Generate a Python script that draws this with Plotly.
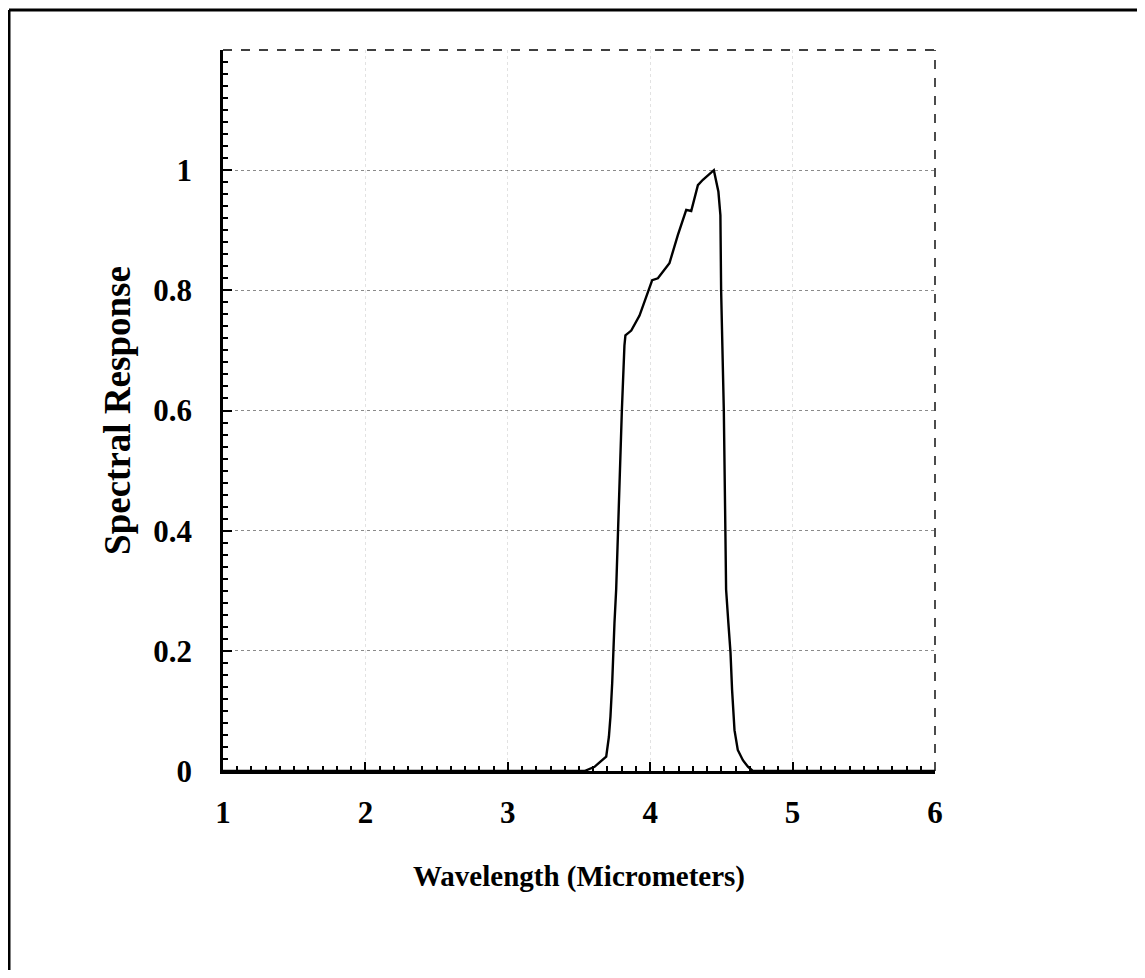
import plotly.graph_objects as go

# ---- data ----
wavelength = [1.0, 3.539, 3.609, 3.691, 3.710, 3.721, 3.733, 3.740, 3.749, 3.761,
              3.773, 3.801, 3.819, 3.826, 3.867, 3.925, 3.984, 4.014, 4.054, 4.135,
              4.194, 4.253, 4.288, 4.335, 4.370, 4.447, 4.479, 4.493, 4.498, 4.517,
              4.528, 4.533, 4.549, 4.564, 4.575, 4.592, 4.615, 4.651, 4.686, 4.721, 6.0]
response = [0.0, 0.0, 0.007, 0.024, 0.057, 0.091, 0.146, 0.197, 0.246, 0.302,
            0.398, 0.600, 0.708, 0.725, 0.733, 0.758, 0.797, 0.817, 0.820, 0.845,
            0.892, 0.934, 0.932, 0.975, 0.984, 1.0, 0.964, 0.925, 0.80, 0.60,
            0.398, 0.302, 0.246, 0.197, 0.135, 0.068, 0.035, 0.018, 0.007, 0.0, 0.0]

x_ticks = [1, 2, 3, 4, 5, 6]
x_tick_labels = ["1", "2", "3", "4", "5", "6"]
y_ticks = [0, 0.2, 0.4, 0.6, 0.8, 1.0]
y_tick_labels = ["0", "0.2", "0.4", "0.6", "0.8", "1"]

x_title = "Wavelength (Micrometers)"
y_title = "Spectral Response"

# ---- layout geometry ----
W, H = 1129, 962
ML, MR, MT, MB = 215, 202, 42, 199
pw = W - ML - MR
ph = H - MT - MB

def px_to_paper_x(px):
    return (px - ML) / pw

def px_to_paper_y(py):
    return (H - MB - py) / ph

FONT = "Liberation Serif"

fig = go.Figure()
fig.add_trace(go.Scatter(x=wavelength, y=response, mode="lines",
                         line=dict(color="black", width=2.4), showlegend=False))

fig.update_layout(
    width=W, height=H, autosize=False,
    margin=dict(l=ML, r=MR, t=MT, b=MB),
    paper_bgcolor="white", plot_bgcolor="white",
    font=dict(family=FONT, size=30, color="black", weight="bold"),
)

fig.update_xaxes(
    range=[1, 6], tickvals=x_ticks, ticktext=x_tick_labels,
    ticks="inside", ticklen=9, tickwidth=2, tickcolor="black",
    showline=True, linecolor="black", linewidth=2.5,
    showgrid=True, gridcolor="#e2e2e2", griddash="dot", gridwidth=1,
    zeroline=False,
    minor=dict(dtick=0.1, tick0=1, ticks="inside", ticklen=5, tickwidth=1.5,
               tickcolor="black", showgrid=False),
    ticklabelstandoff=12,
    tickfont=dict(family=FONT, size=31, weight="bold"),
    title=dict(text=x_title, font=dict(family=FONT, size=29, weight="bold"), standoff=37),
)
fig.update_yaxes(
    range=[0, 1.2], tickvals=y_ticks, ticktext=y_tick_labels,
    ticks="inside", ticklen=9, tickwidth=2, tickcolor="black",
    showline=True, linecolor="black", linewidth=2.5,
    showgrid=True, gridcolor="#8a8a8a", griddash="dot", gridwidth=1,
    zeroline=False,
    minor=dict(dtick=0.02, tick0=0, ticks="inside", ticklen=5, tickwidth=1.5,
               tickcolor="black", showgrid=False),
    ticklabelstandoff=22,
    tickfont=dict(family=FONT, size=31, weight="bold"),
    title=dict(text=y_title, font=dict(family=FONT, size=37, weight="bold"), standoff=12),
)

# dashed top and right borders of the plot box
fig.add_shape(type="line", xref="paper", yref="paper", x0=0, y0=1, x1=1, y1=1,
              line=dict(color="black", width=1.6, dash="dash"))
fig.add_shape(type="line", xref="paper", yref="paper", x0=1, y0=0, x1=1, y1=1,
              line=dict(color="black", width=1.4, dash="dash"))

# outer page frame (top and left)
fx = px_to_paper_x(1)
fy = px_to_paper_y(2)
fig.add_shape(type="line", xref="paper", yref="paper",
              x0=fx, y0=px_to_paper_y(H), x1=fx, y1=fy,
              line=dict(color="black", width=3))
fig.add_shape(type="line", xref="paper", yref="paper",
              x0=fx, y0=fy, x1=px_to_paper_x(W), y1=fy,
              line=dict(color="black", width=3))

fig.write_html("out.html")
